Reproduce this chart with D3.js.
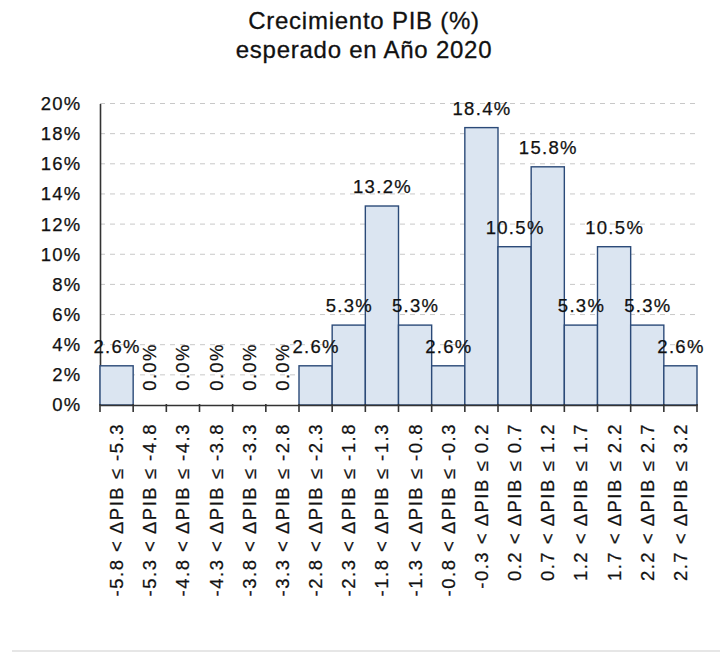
<!DOCTYPE html>
<html>
<head>
<meta charset="utf-8">
<script src="https://cdn.jsdelivr.net/npm/d3@7"></script>
<style>
  html, body { margin: 0; padding: 0; background: #fff; }
  svg { display: block; font-family: Arial, "Liberation Sans", sans-serif; }
</style>
</head>
<body>
<svg id="chart" width="720" height="653"></svg>
<script>
const categories = [
  "-5.8 < ΔPIB ≤ -5.3", "-5.3 < ΔPIB ≤ -4.8", "-4.8 < ΔPIB ≤ -4.3",
  "-4.3 < ΔPIB ≤ -3.8", "-3.8 < ΔPIB ≤ -3.3", "-3.3 < ΔPIB ≤ -2.8",
  "-2.8 < ΔPIB ≤ -2.3", "-2.3 < ΔPIB ≤ -1.8", "-1.8 < ΔPIB ≤ -1.3",
  "-1.3 < ΔPIB ≤ -0.8", "-0.8 < ΔPIB ≤ -0.3", "-0.3 < ΔPIB ≤ 0.2",
  "0.2 < ΔPIB ≤ 0.7", "0.7 < ΔPIB ≤ 1.2", "1.2 < ΔPIB ≤ 1.7",
  "1.7 < ΔPIB ≤ 2.2", "2.2 < ΔPIB ≤ 2.7", "2.7 < ΔPIB ≤ 3.2"
];
const values = [2.6, 0.0, 0.0, 0.0, 0.0, 0.0, 2.6, 5.3, 13.2, 5.3, 2.6, 18.4, 10.5, 15.8, 5.3, 10.5, 5.3, 2.6];
const yTicks = [0, 2, 4, 6, 8, 10, 12, 14, 16, 18, 20];
const titleLines = ["Crecimiento PIB (%)", "esperado en Año 2020"];

const svg = d3.select("#chart");
const mLeft = 100, mRight = 697, mTop = 103.5, mBottom = 405;
const ink = "#111";

const x = d3.scaleBand().domain(categories).range([mLeft, mRight]).padding(0);
const y = d3.scaleLinear().domain([0, 20]).range([mBottom, mTop]);

// Title
svg.append("g").selectAll("text").data(titleLines).join("text")
  .attr("x", 364)
  .attr("y", (d, i) => 29 + i * 29)
  .attr("text-anchor", "middle")
  .attr("font-size", 24)
  .attr("letter-spacing", 0.75)
  .attr("fill", ink).attr("stroke", ink).attr("stroke-width", 0.3)
  .text(d => d);

// Gridlines
svg.append("g").selectAll("line").data(yTicks.filter(t => t > 0)).join("line")
  .attr("x1", mLeft).attr("x2", 699)
  .attr("y1", d => y(d)).attr("y2", d => y(d))
  .attr("stroke", "#c8c8c8").attr("stroke-width", 1)
  .attr("stroke-dasharray", "5,5");

// Y axis
const yAxis = d3.axisLeft(y).tickValues(yTicks).tickSize(0).tickPadding(18.5)
  .tickFormat(d => d + "%");
const gy = svg.append("g").attr("transform", `translate(${mLeft},0)`).call(yAxis);
gy.select(".domain").attr("stroke", "#333").attr("stroke-width", 1.6);
gy.selectAll("text").attr("font-size", 18.5).attr("letter-spacing", 1.2)
  .attr("fill", ink).attr("stroke", ink).attr("stroke-width", 0.25)
  .attr("font-family", "Arial, 'Liberation Sans', sans-serif");

// Bars
svg.append("g").selectAll("rect").data(values).join("rect")
  .attr("x", (d, i) => x(categories[i]))
  .attr("y", d => y(d))
  .attr("width", x.bandwidth())
  .attr("height", d => mBottom - y(d))
  .attr("fill", "#dbe5f1")
  .attr("stroke", "#2b4a78")
  .attr("stroke-width", 1.4)
  .attr("display", d => d > 0 ? null : "none");

// X axis
const xAxis = d3.axisBottom(x).tickSize(0).tickFormat("");
const gx = svg.append("g").attr("transform", `translate(0,${mBottom})`).call(xAxis);
gx.select(".domain").attr("stroke", "#333").attr("stroke-width", 1.6);
const bounds = categories.map(c => x(c)).concat([mRight]);
svg.append("g").selectAll("line").data(bounds).join("line")
  .attr("x1", d => d).attr("x2", d => d)
  .attr("y1", mBottom - 1).attr("y2", mBottom + 7)
  .attr("stroke", "#333").attr("stroke-width", 1.6);

// X labels (rotated)
svg.append("g").selectAll("text").data(categories).join("text")
  .attr("transform", d => `translate(${x(d) + x.bandwidth() / 2 + 6.5},423) rotate(-90)`)
  .attr("text-anchor", "end")
  .attr("font-size", 18.5)
  .attr("letter-spacing", 1.5)
  .attr("fill", ink).attr("stroke", ink).attr("stroke-width", 0.25)
  .text(d => d);

// Data labels
const lbl = svg.append("g");
values.forEach((v, i) => {
  const cx = x(categories[i]) + x.bandwidth() / 2;
  const t = lbl.append("text")
    .attr("font-size", 18.5)
    .attr("letter-spacing", 1.3)
    .attr("fill", ink).attr("stroke", ink).attr("stroke-width", 0.25)
    .text(v.toFixed(1) + "%");
  if (v > 0) {
    t.attr("x", cx + 0.6).attr("y", y(v) - 13).attr("text-anchor", "middle");
  } else {
    t.attr("transform", `translate(${cx + 6.5},${mBottom - 38}) rotate(-90)`)
      .attr("text-anchor", "middle");
  }
});

// Bottom divider line
svg.append("line").attr("x1", 12).attr("x2", 720).attr("y1", 651).attr("y2", 651)
  .attr("stroke", "#e6e6e6").attr("stroke-width", 2);
</script>
</body>
</html>
